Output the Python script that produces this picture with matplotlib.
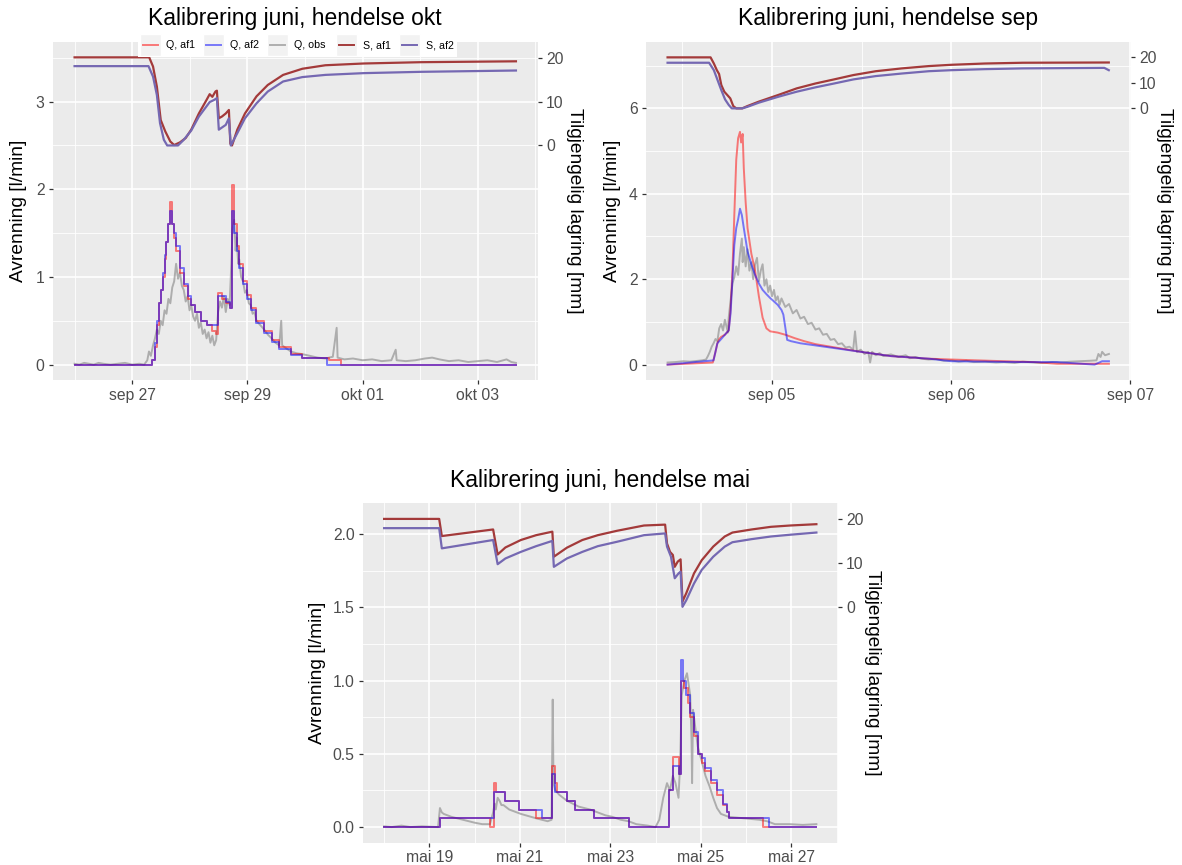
import matplotlib
matplotlib.use('Agg')
import matplotlib.pyplot as plt
import numpy as np
import pandas as pd
from matplotlib.patches import Rectangle

plt.rcParams['font.family'] = ['Liberation Sans', 'DejaVu Sans']

# ---------------- data: hendelse okt (hours from start) ----------------
okt_start = '2019-09-26 00:00'
okt_q1_h = [0, 32.4, 33.5, 34.3, 35.1, 35.9, 36.7, 37.5, 38.3, 39.1, 39.9, 40.7, 41.5, 42.3, 43.9, 45.5,
            47.1, 48.6, 50.2, 52.6, 55.0, 57.4, 59.0, 59.8, 61.4, 63.0, 64.6, 65.4, 66.5, 67.5, 68.6,
            70.2, 71.8, 73.4, 75.8, 79.0, 82.1, 85.3, 90.1, 94.9, 106.1, 110.9, 183.9]
okt_q1 = [0, 0.05, 0.2, 0.45, 0.7, 0.85, 1.0, 1.2, 1.4, 1.6, 1.85, 1.6, 1.45, 1.3, 1.05, 0.9,
          0.75, 0.68, 0.6, 0.5, 0.45, 0.38, 0.35, 0.82, 0.75, 0.7, 0.65, 2.05, 1.6, 1.35, 1.15,
          0.95, 0.8, 0.65, 0.5, 0.38, 0.28, 0.2, 0.12, 0.08, 0.05, 0.0, 0.0]
okt_q2_h = [0, 32.4, 33.5, 34.3, 35.1, 35.9, 36.7, 37.5, 38.3, 39.1, 39.9, 40.7, 41.5, 42.3, 43.9, 45.5,
            47.1, 48.6, 50.2, 52.6, 55.0, 57.4, 59.8, 63.0, 64.6, 65.4, 66.5, 67.5, 68.6, 70.2,
            71.8, 73.4, 75.8, 79.0, 82.1, 85.3, 90.1, 94.9, 105.3, 183.9]
okt_q2 = [0, 0.05, 0.25, 0.5, 0.7, 0.85, 1.05, 1.25, 1.4, 1.6, 1.75, 1.6, 1.5, 1.35, 1.1, 0.92,
          0.78, 0.68, 0.6, 0.5, 0.45, 0.45, 0.78, 0.72, 0.65, 1.75, 1.5, 1.3, 1.1, 0.92,
          0.75, 0.62, 0.48, 0.36, 0.26, 0.18, 0.11, 0.07, 0.0, 0.0]
okt_obs_h = [0, 2, 4, 6, 8, 10, 12, 15, 18, 21, 24, 27, 29, 30.3, 31, 31.8, 32.7, 33.5, 34.3, 35.1,
             35.9, 36.7, 37.5, 38.3, 39.1, 39.9, 40.7, 41.5, 42.3, 43.1, 43.9, 44.7, 45.5, 46.3,
             47.1, 47.9, 48.6, 49.4, 50.2, 51.0, 51.8, 52.6, 53.4, 54.2, 55.0, 55.8, 56.6, 57.4,
             58.2, 59.0, 59.8, 60.6, 61.4, 62.2, 63.0, 63.8, 64.6, 65.4, 65.8, 66.5, 67.1, 67.5,
             68.2, 68.6, 69.4, 70.2, 71.0, 71.8, 72.6, 73.4, 74.2, 75.0, 75.8, 77.4, 79.0, 80.6,
             82.1, 83.7, 85.3, 86.1, 86.5, 88.5, 90.1, 92.5, 94.9, 98.1, 101.3, 104.5, 107.6,
             109.2, 109.6, 112.4, 116.0, 120.0, 124.0, 128.0, 132.0, 133.8, 134.2, 138.0, 142.0,
             146.0, 149.0, 152.0, 156.0, 160.0, 164.0, 168.0, 172.0, 176.0, 180.0, 182.0, 183.9]
okt_obs = [0.01, 0.0, 0.02, 0.01, 0.0, 0.02, 0.01, 0.0, 0.01, 0.02, 0.0, 0.01, 0.0, 0.05, 0.15, 0.1,
           0.22, 0.3, 0.4, 0.35, 0.5, 0.45, 0.62, 0.58, 0.75, 0.7, 0.88, 0.95, 1.15, 0.98, 1.05,
           0.9, 0.85, 0.72, 0.78, 0.62, 0.68, 0.55, 0.5, 0.58, 0.42, 0.48, 0.35, 0.4, 0.3, 0.37,
           0.25, 0.33, 0.22, 0.28, 0.6, 0.72, 0.65, 0.78, 0.6, 0.75, 0.68, 1.2, 1.55, 1.65, 1.3,
           1.45, 1.15, 1.2, 1.0, 0.95, 0.82, 0.85, 0.7, 0.68, 0.58, 0.6, 0.5, 0.45, 0.4, 0.34,
           0.3, 0.25, 0.22, 0.5, 0.22, 0.18, 0.15, 0.13, 0.12, 0.1, 0.08, 0.07, 0.09, 0.42, 0.08,
           0.06, 0.07, 0.05, 0.06, 0.04, 0.05, 0.17, 0.05, 0.04, 0.05, 0.07, 0.08, 0.06, 0.04,
           0.05, 0.03, 0.04, 0.05, 0.03, 0.06, 0.03, 0.02]
okt_s1_h = [0, 31.1, 32.7, 34.3, 35.9, 37.8, 39.9, 41.5, 43.9, 46.3, 48.6, 51.8, 55.0, 56.3, 57.4,
            58.7, 59.3, 60.1, 61.4, 63.0, 64.3, 64.9, 65.6, 67.8, 71.0, 75.8, 80.5, 86.9, 94.9,
            104.5, 120.4, 144.3, 183.9]
okt_s1 = [20.1, 20.1, 18.0, 13.4, 5.8, 3.2, 0.9, 0.1, 0.7, 1.7, 3.6, 7.3, 10.4, 11.7, 11.1,
          12.3, 12.5, 6.2, 6.6, 7.3, 8.1, 0.4, 0.0, 3.6, 7.3, 11.2, 13.8, 16.1, 17.5,
          18.3, 18.7, 19.0, 19.2]
okt_s2_h = [0, 30.8, 32.7, 34.3, 35.6, 37.2, 38.6, 43.1, 45.5, 48.6, 51.8, 56.3, 58.2, 59.3, 60.1,
            63.0, 64.3, 65.1, 67.8, 71.0, 75.8, 80.5, 86.9, 94.9, 104.5, 120.4, 144.3, 183.9]
okt_s2 = [18.1, 18.1, 15.7, 11.5, 5.1, 1.3, 0.0, 0.0, 1.3, 3.4, 6.6, 9.9, 10.4, 10.8, 3.6,
          4.7, 6.2, 0.0, 2.8, 6.2, 9.6, 12.3, 14.6, 15.6, 16.1, 16.5, 16.8, 17.1]
okt_ticks = ['2019-09-27', '2019-09-29', '2019-10-01', '2019-10-03']
okt_ticklabels = ['sep 27', 'sep 29', 'okt 01', 'okt 03']
okt_yticks = [0, 1, 2, 3]
okt_yticklabels = ['0', '1', '2', '3']

# ---------------- data: hendelse sep ----------------
sep_start = '2019-09-04 10:00'
sep_q1_h = [0, 6.06, 6.42, 6.67, 6.92, 7.18, 7.68, 8.19, 8.44, 8.69, 8.94, 9.20, 9.45, 9.70, 9.85,
            10.06, 10.21, 10.46, 10.71, 11.22, 11.72, 12.23, 12.73, 13.24, 13.74, 14.75, 15.77,
            17.03, 18.29, 19.81, 21.83, 23.85, 25.87, 27.89, 29.91, 32.44, 34.97, 38.0, 41.54,
            45.07, 49.12, 52.15, 59.12]
sep_q1 = [0, 0.05, 0.3, 0.5, 0.6, 0.65, 0.7, 0.8, 1.3, 2.2, 3.5, 4.8, 5.3, 5.45, 5.2,
          5.4, 4.6, 3.8, 3.2, 2.6, 2.2, 1.6, 1.1, 0.85, 0.78, 0.75, 0.7,
          0.62, 0.55, 0.48, 0.42, 0.36, 0.3, 0.25, 0.2, 0.17, 0.14, 0.12, 0.1,
          0.08, 0.06, 0.02, 0.02]
sep_q2_h = [0, 6.16, 6.67, 7.18, 7.68, 8.19, 8.44, 8.69, 8.94, 9.20, 9.45, 9.70, 9.95, 10.21,
            10.71, 11.22, 11.72, 12.23, 12.73, 13.24, 13.74, 14.25, 14.75, 15.26, 15.51, 16.02,
            16.52, 17.79, 19.81, 21.83, 23.85, 25.87, 27.89, 29.91, 32.44, 34.97, 38.0, 42.55,
            47.60, 52.15, 57.20, 58.21, 59.12]
sep_q2 = [0, 0.1, 0.5, 0.6, 0.7, 0.8, 1.2, 2.0, 2.8, 3.2, 3.4, 3.65, 3.5, 3.2,
          2.65, 2.35, 2.1, 1.9, 1.75, 1.65, 1.56, 1.48, 1.4, 1.28, 1.17, 0.58,
          0.55, 0.5, 0.45, 0.4, 0.35, 0.3, 0.25, 0.2, 0.17, 0.14, 0.08, 0.07,
          0.06, 0.06, 0.0, 0.08, 0.08]
sep_obs_h = [0, 1.0, 2.1, 3.0, 4.65, 5.15, 5.4, 5.66, 5.91, 6.16, 6.42, 6.67, 6.92, 7.18, 7.43,
             7.68, 8.08, 8.19, 8.44, 8.69, 8.94, 9.20, 9.45, 9.70, 9.95, 10.06, 10.21, 10.46,
             10.71, 10.96, 11.22, 11.47, 11.72, 11.98, 12.23, 12.48, 12.73, 12.98, 13.24, 13.49,
             13.74, 13.99, 14.25, 14.5, 14.75, 15.0, 15.26, 15.77, 16.27, 16.78, 17.28, 17.79,
             18.29, 18.8, 19.30, 19.81, 20.31, 20.82, 21.32, 21.83, 22.33, 22.84, 23.35, 23.85,
             24.36, 24.86, 25.11, 25.37, 25.87, 26.38, 26.88, 27.13, 27.39, 27.89, 28.4, 28.90,
             29.91, 30.92, 31.9, 32.44, 33.2, 33.96, 34.97, 35.98, 37.0, 38.0, 39.0, 40.02, 41.0,
             42.55, 44.0, 45.07, 46.5, 47.60, 49.12, 50.13, 51.5, 52.65, 54.0, 55.18, 56.5,
             57.45, 57.71, 58.0, 58.21, 58.6, 59.12]
sep_obs = [0.05, 0.06, 0.08, 0.07, 0.1, 0.12, 0.2, 0.3, 0.42, 0.5, 0.6, 0.55, 0.85, 0.95, 0.8,
           1.05, 0.75, 1.1, 1.5, 1.9, 2.05, 2.3, 2.1, 2.6, 2.95, 2.4, 2.75, 2.3,
           2.7, 2.2, 2.4, 2.0, 2.35, 2.5, 1.95, 2.2, 2.35, 1.85, 2.0, 1.7,
           1.85, 1.6, 1.75, 1.5, 1.6, 1.4, 1.55, 1.35, 1.42, 1.2, 1.28, 1.08,
           1.12, 0.95, 0.98, 0.82, 0.85, 0.7, 0.72, 0.58, 0.6, 0.48, 0.5, 0.4,
           0.42, 0.35, 0.78, 0.3, 0.35, 0.25, 0.3, 0.05, 0.3, 0.22, 0.27, 0.2,
           0.24, 0.18, 0.22, 0.15, 0.18, 0.14, 0.12, 0.13, 0.09, 0.1, 0.07, 0.09, 0.06,
           0.07, 0.05, 0.06, 0.04, 0.07, 0.05, 0.04, 0.06, 0.05, 0.07, 0.08, 0.09,
           0.1, 0.25, 0.18, 0.3, 0.22, 0.25]
sep_s1_h = [0, 5.76, 6.2, 6.6, 6.9, 7.2, 7.6, 8.0, 8.4, 8.8, 9.2, 10.0, 10.7, 12.2, 14.8, 17.3,
            19.8, 22.3, 24.9, 27.9, 31.4, 35.0, 38.0, 42.5, 47.6, 59.1]
sep_s1 = [19.9, 19.9, 17.5, 14.9, 13.4, 9.1, 6.5, 5.2, 3.9, 0.9, 0.0, 0.0, 0.9, 2.6, 5.2, 7.8,
          9.7, 11.3, 13.0, 14.5, 15.6, 16.5, 17.0, 17.5, 17.8, 17.9]
sep_s2_h = [0, 5.56, 6.2, 6.7, 7.2, 7.7, 8.2, 8.6, 10.0, 10.7, 12.2, 14.8, 17.3, 19.8, 22.3,
            24.9, 27.9, 31.4, 35.0, 38.0, 42.5, 47.6, 58.5, 59.1]
sep_s2 = [17.8, 17.8, 14.9, 11.0, 7.1, 3.5, 1.3, 0.0, 0.0, 0.6, 2.2, 4.5, 6.5, 8.2, 9.7,
          11.3, 12.6, 13.6, 14.5, 14.9, 15.3, 15.6, 15.8, 14.9]
sep_ticks = ['2019-09-05', '2019-09-06', '2019-09-07']
sep_ticklabels = ['sep 05', 'sep 06', 'sep 07']
sep_yticks = [0, 2, 4, 6]
sep_yticklabels = ['0', '2', '4', '6']

# ---------------- data: hendelse mai ----------------
mai_start = '2019-05-18 00:00'
mai_q1_h = [0, 29.6, 56.1, 58.2, 59.2, 64.3, 71.4, 80.6, 89.2, 90.4, 91.8, 96.9, 101.0, 111.2,
            129.6, 151.0, 153.1, 156.1, 157.6, 159.2, 161.2, 162.3, 164.3, 166.3, 168.4, 170.4,
            173.5, 176.5, 179.6, 181.6, 182.7, 201.0, 229.2]
mai_q1 = [0, 0.06, 0.0, 0.3, 0.24, 0.18, 0.12, 0.06, 0.42, 0.3, 0.24, 0.18, 0.12, 0.06,
          0.0, 0.25, 0.48, 0.36, 1.0, 0.95, 0.85, 0.75, 0.62, 0.5, 0.44, 0.38,
          0.3, 0.22, 0.15, 0.1, 0.06, 0.0, 0.0]
mai_q2_h = [0, 29.6, 58.2, 64.3, 71.4, 83.7, 89.2, 90.8, 96.9, 101.0, 111.2, 129.6, 151.0,
            153.1, 156.5, 157.6, 158.6, 160.2, 162.3, 164.3, 166.3, 168.4, 170.4, 173.5, 176.5,
            179.6, 181.6, 182.7, 204.1, 229.2]
mai_q2 = [0, 0.06, 0.24, 0.18, 0.12, 0.06, 0.36, 0.24, 0.18, 0.12, 0.06, 0.0, 0.25,
          0.42, 0.36, 1.14, 1.0, 0.9, 0.78, 0.65, 0.5, 0.47, 0.4, 0.32, 0.25,
          0.16, 0.1, 0.06, 0.0, 0.0]
mai_obs_h = [0, 4, 9.2, 14, 20, 28.6, 29.6, 30.6, 31.6, 35.7, 41.8, 48.0, 52, 56.1, 57.8, 58.6,
             59.2, 60.2, 61.2, 62.2, 63.3, 66.3, 72.5, 80.6, 86.7, 88.8, 89.4, 89.8, 90.8, 92.9,
             96.9, 103.1, 109.2, 117.4, 121, 125.5, 129.6, 133.7, 139.8, 143.9, 145.9, 148.0,
             150.0, 151.5, 153.1, 154.5, 156.1, 157.0, 157.8, 159.2, 160.6, 162.3, 163.0, 163.3,
             163.8, 164.3, 166.3, 168.4, 170.4, 172.5, 174.5, 176.5, 178.6, 182.7, 190.8, 199.0,
             203.1, 207.2, 215, 222, 229.2]
mai_obs = [0.005, 0.0, 0.01, 0.0, 0.005, 0.0, 0.13, 0.1, 0.09, 0.07, 0.05, 0.03, 0.02, 0.02, 0.1, 0.16,
           0.12, 0.2, 0.18, 0.15, 0.15, 0.12, 0.09, 0.06, 0.04, 0.05, 0.87, 0.3, 0.25, 0.22,
           0.18, 0.14, 0.12, 0.08, 0.07, 0.05, 0.04, 0.02, 0.01, 0.0, 0.05, 0.2,
           0.3, 0.25, 0.35, 0.3, 0.2, 0.45, 0.9, 1.0, 1.05, 0.9, 0.6, 0.3,
           0.8, 0.75, 0.55, 0.45, 0.35, 0.28, 0.2, 0.13, 0.09, 0.07, 0.06, 0.05,
           0.04, 0.02, 0.02, 0.015, 0.02]
mai_s1_h = [0, 29.2, 30.6, 57.8, 60.2, 64.3, 72.5, 80.6, 89.2, 90.0, 96.9, 105.1, 113.3, 123.5,
            137.8, 149.0, 150.0, 151.6, 153.1, 154.1, 155.7, 157.2, 158.2, 160.2, 164.3, 168.4,
            174.5, 180.6, 184.7, 194.9, 205.1, 215.3, 229.2]
mai_s1 = [20.1, 20.1, 16.2, 17.7, 12.0, 13.6, 15.3, 16.4, 17.2, 11.5, 13.55, 15.3, 16.4, 17.4,
          18.6, 18.8, 14.5, 12.6, 11.9, 9.2, 10.4, 10.9, 1.3, 3.2, 7.7, 10.7,
          13.8, 16.1, 17.0, 17.7, 18.3, 18.6, 18.9]
mai_s2_h = [0, 29.2, 30.6, 57.8, 60.2, 64.3, 72.5, 80.6, 89.2, 90.0, 96.9, 105.1, 113.3, 123.5,
            137.8, 149.0, 150.0, 152.1, 154.1, 156.1, 157.2, 158.2, 160.2, 164.3, 168.4, 174.5,
            180.6, 184.7, 194.9, 205.1, 215.3, 229.2]
mai_s2 = [18.0, 18.0, 13.4, 15.3, 9.8, 11.1, 12.6, 13.9, 15.1, 9.2, 11.1, 12.6, 13.9, 14.9,
          16.4, 16.8, 13.8, 11.5, 6.6, 7.7, 8.1, 0.1, 1.6, 5.4, 8.5, 11.5,
          13.8, 14.8, 15.5, 16.1, 16.5, 17.0]
mai_ticks = ['2019-05-19', '2019-05-21', '2019-05-23', '2019-05-25', '2019-05-27']
mai_ticklabels = ['mai 19', 'mai 21', 'mai 23', 'mai 25', 'mai 27']
mai_yticks = [0.0, 0.5, 1.0, 1.5, 2.0]
mai_yticklabels = ['0.0', '0.5', '1.0', '1.5', '2.0']

titles = ['Kalibrering juni, hendelse okt', 'Kalibrering juni, hendelse sep',
          'Kalibrering juni, hendelse mai']
legend_labels = ['Q, af1', 'Q, af2', 'Q, obs', 'S, af1', 'S, af2']
s_ticks = [0, 10, 20]

# ---------------- styling ----------------
C_Q1 = (1.0, 0.0, 0.0, 0.5)
C_Q2 = (0.0, 0.0, 1.0, 0.5)
C_OBS = (0.6, 0.6, 0.6, 0.75)
C_S1 = '#A33A3A'
C_S2 = '#7568B2'
LW = 1.4
BG = '#EBEBEB'

W, H = 1182, 865
fig = plt.figure(figsize=(W / 100, H / 100), dpi=100)


def px_axes(left, top, right, bottom):
    return fig.add_axes([left / W, 1 - bottom / H, (right - left) / W, (bottom - top) / H])


def to_dates(start, hours):
    return (pd.Timestamp(start) + pd.to_timedelta(np.asarray(hours, float), unit='h')).to_numpy()


def panel(ax, start, q1h, q1, q2h, q2, obsh, obs, s1h, s1, s2h, s2, off, scale,
          ticks, ticklabels, yticks, yticklabels, yminor, qstyle='steps-post'):
    ax.set_facecolor(BG)
    for s in ax.spines.values():
        s.set_visible(False)
    t_obs = to_dates(start, obsh)
    t_q1 = to_dates(start, q1h)
    t_q2 = to_dates(start, q2h)
    t_s1 = to_dates(start, s1h)
    t_s2 = to_dates(start, s2h)
    y_s1 = off + np.asarray(s1) * scale
    y_s2 = off + np.asarray(s2) * scale
    ax.plot(t_obs, obs, color=C_OBS, lw=LW, zorder=3)
    ax.plot(t_q1, q1, color=C_Q1, lw=LW, drawstyle=qstyle, zorder=4)
    ax.plot(t_q2, q2, color=C_Q2, lw=LW, drawstyle=qstyle, zorder=5)
    ax.plot(t_s1, y_s1, color=C_S1, lw=LW + 0.2, zorder=6)
    ax.plot(t_s2, y_s2, color=C_S2, lw=LW + 0.2, zorder=6)

    # ggplot-like 5% expansion
    allx = np.concatenate([t_obs, t_q1, t_q2, t_s1, t_s2]).astype('datetime64[ns]')
    x0, x1 = allx.min(), allx.max()
    pad = (x1 - x0) * 0.05
    lo, hi = x0 - pad, x1 + pad
    ally = np.concatenate([obs, q1, q2, y_s1, y_s2])
    y0, y1 = ally.min(), ally.max()

    tk = pd.to_datetime(ticks)
    step = tk[1] - tk[0]
    minor = [tk[0] - step / 2] + [a + step / 2 for a in tk]
    minor = [m for m in minor if lo <= m.to_datetime64() <= hi]
    ax.set_xticks(tk.to_numpy())
    ax.set_xticklabels(ticklabels)
    ax.set_xticks(pd.DatetimeIndex(minor).to_numpy(), minor=True)
    ax.set_yticks(yticks)
    ax.set_yticklabels(yticklabels)
    ax.set_yticks(yminor, minor=True)
    ax.set_xlim(lo, hi)
    ax.set_ylim(y0 - 0.05 * (y1 - y0), y1 + 0.05 * (y1 - y0))
    ax.grid(which='major', color='white', lw=1.2, zorder=0)
    ax.grid(which='minor', color='white', lw=0.6, zorder=0)
    ax.set_axisbelow(True)
    ax.tick_params(which='major', length=3.2, width=0.9, color='#333333',
                   labelcolor='#4D4D4D', labelsize=11.3, pad=2.5)
    ax.tick_params(which='minor', length=0)

    sec = ax.secondary_yaxis('right', functions=(lambda y, o=off, s=scale: (y - o) / s,
                                                 lambda v, o=off, s=scale: o + v * s))
    sec.set_yticks(s_ticks)
    sec.set_yticklabels([str(v) for v in s_ticks])
    for s in sec.spines.values():
        s.set_visible(False)
    sec.tick_params(length=3.2, width=0.9, color='#333333', labelcolor='#4D4D4D',
                    labelsize=11.3, pad=2.5)


def axis_titles(left_x, right_x, center_y):
    fig.text(left_x / W, 1 - center_y / H, 'Avrenning [l/min]', rotation=90,
             ha='center', va='center', fontsize=13.8)
    fig.text(right_x / W, 1 - center_y / H, 'Tilgjengelig lagring [mm]', rotation=270,
             ha='center', va='center', fontsize=13.8)


ax1 = px_axes(52.5, 42, 538, 380)
panel(ax1, okt_start, okt_q1_h, okt_q1, okt_q2_h, okt_q2, okt_obs_h, okt_obs,
      okt_s1_h, okt_s1, okt_s2_h, okt_s2, 2.5, 0.05,
      okt_ticks, okt_ticklabels, okt_yticks, okt_yticklabels, [0.5, 1.5, 2.5, 3.5])
axis_titles(19, 575, 211)
ax2 = px_axes(645.5, 42, 1131, 380)
panel(ax2, sep_start, sep_q1_h, sep_q1, sep_q2_h, sep_q2, sep_obs_h, sep_obs,
      sep_s1_h, sep_s1, sep_s2_h, sep_s2, 6.0, 0.06,
      sep_ticks, sep_ticklabels, sep_yticks, sep_yticklabels, [1, 3, 5, 7], qstyle='default')
axis_titles(612.5, 1165, 211)
ax3 = px_axes(362.5, 503.5, 838, 842.5)
panel(ax3, mai_start, mai_q1_h, mai_q1, mai_q2_h, mai_q2, mai_obs_h, mai_obs,
      mai_s1_h, mai_s1, mai_s2_h, mai_s2, 1.5, 0.03,
      mai_ticks, mai_ticklabels, mai_yticks, mai_yticklabels, [0.25, 0.75, 1.25, 1.75])
axis_titles(317, 872, 673)

# titles
fig.text(295 / W, 1 - 19 / H, titles[0], ha='center', va='center', fontsize=16.5)
fig.text(888 / W, 1 - 19 / H, titles[1], ha='center', va='center', fontsize=16.5)
fig.text(600 / W, 1 - 481 / H, titles[2], ha='center', va='center', fontsize=16.5)

# legend (horizontal, top of first panel)
lg = px_axes(138, 33, 457, 57)
lg.set_xlim(138, 457)
lg.set_ylim(57, 33)
lg.axis('off')
lg.add_patch(Rectangle((138, 33), 319, 24, facecolor='white', edgecolor='none'))
key_x = [139.5, 203, 267, 336, 398.5]
key_colors = [C_Q1, C_Q2, C_OBS, C_S1, C_S2]
for kx, col, lab in zip(key_x, key_colors, legend_labels):
    lg.add_patch(Rectangle((kx, 34), 21, 22, facecolor='#F2F2F2', edgecolor='white'))
    lg.plot([kx + 3, kx + 18], [45, 45], color=col, lw=1.4)
    lg.text(kx + 27, 45.5, lab, fontsize=7.7, va='center', ha='left', color='black')

fig.savefig('out.png', dpi=100)
